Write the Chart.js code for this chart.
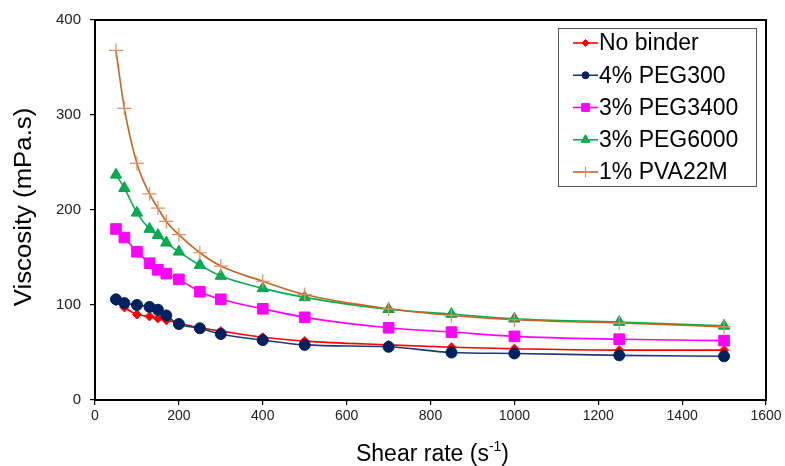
<!DOCTYPE html>
<html>
<head>
<meta charset="utf-8">
<script src="https://cdn.jsdelivr.net/npm/chart.js@4/dist/chart.umd.min.js"></script>
<style>
  html, body { margin: 0; padding: 0; background: #fff; }
  #wrap { width: 785px; height: 466px; position: relative; }
</style>
</head>
<body>
<div id="wrap"><canvas id="viscChart"></canvas></div>
<script>
/* ---- Data ---- */
const shearRate = [50, 70, 100, 130, 150, 170, 200, 250, 300, 400, 500, 700, 850, 1000, 1250, 1500];
const noBinder  = [104, 97.5, 90, 88, 86, 84, 81, 76, 72.5, 66, 62, 58, 55.5, 54, 52.5, 52.5];
const peg300    = [106, 102, 100, 98, 95, 89, 80, 75.5, 69.5, 63, 58, 56, 50, 49, 47, 46];
const peg3400   = [180, 171, 156, 144, 137, 133, 127, 114, 106, 96, 87, 76, 71.5, 67, 64, 62.5];
const peg6000   = [237, 223, 197, 180, 173.5, 165.5, 156, 142, 130.5, 117.5, 108, 95.5, 90.5, 85.5, 82, 78];
const pva22m    = [368, 307, 249, 217, 202, 188, 174, 155, 141, 125, 111, 96, 89, 84.5, 81, 77];

const seriesLabels = ['No binder', '4% PEG300', '3% PEG3400', '3% PEG6000', '1% PVA22M'];
const xTicks = [0, 200, 400, 600, 800, 1000, 1200, 1400, 1600];
const yTicks = [0, 100, 200, 300, 400];

const FONT = '"Liberation Sans", Arial, Helvetica, sans-serif';

/* ---- Series styling ---- */
const styles = [
  { line: '#FF0000', fill: '#FF0000', edge: '#FF0000', point: 'rectRot', r: 4.5, lr: 3.5 },
  { line: '#1F3A73', fill: '#002060', edge: '#002060', point: 'circle', r: 5.5, lr: 3.5 },
  { line: '#FF00FF', fill: '#FF00FF', edge: '#FF00FF', point: 'rect', r: 7.5, lr: 5.5 },
  { line: '#00B050', fill: '#00B050', edge: '#00A048', point: 'triangle', r: 6.5, lr: 5 },
  { line: '#C8641E', fill: '#E8A070', edge: '#E09060', point: 'cross', r: 7, lr: 5.5 },
];

const values = [noBinder, peg300, peg3400, peg6000, pva22m];

const datasets = values.map((vals, i) => {
  const s = styles[i];
  return {
    label: seriesLabels[i],
    data: shearRate.map((x, k) => ({ x, y: vals[k] })),
    borderColor: s.line,
    borderWidth: 1.6,
    backgroundColor: s.fill,
    pointStyle: s.point,
    pointRadius: s.r,
    pointBackgroundColor: s.fill,
    pointBorderColor: s.edge,
    pointBorderWidth: s.point === 'cross' ? 1.2 : 1,
    cubicInterpolationMode: 'monotone',
    fill: false,
    order: values.length - i,
  };
});

/* ---- Helpers ---- */

function _tickAxis(min, max, step, font, padding) {
  return {
    type: 'linear',
    min, max,
    ticks: {
      stepSize: step,
      color: '#222',
      font,
      padding,
      callback: (v) => String(v),
    },
    grid: {
      display: true,
      drawOnChartArea: false,
      drawTicks: true,
      tickLength: 5,
      color: '#000',
      lineWidth: 1.2,
    },
    border: { display: false },
  };
}

/* Plot frame, drawn under the series */
const framePlugin = {
  id: 'frame',
  beforeDatasetsDraw(chart) {
    const { ctx, chartArea: a } = chart;
    ctx.save();
    ctx.strokeStyle = '#000';
    ctx.lineWidth = 2;
    ctx.strokeRect(a.left, a.top, a.right - a.left, a.bottom - a.top);
    ctx.restore();
  },
};

/* Axis titles (x title carries a superscript) */
const titlesPlugin = {
  id: 'titles',
  afterDraw(chart) {
    const { ctx, chartArea: a } = chart;
    ctx.save();
    ctx.fillStyle = '#000';
    ctx.textBaseline = 'middle';

    // y title
    ctx.save();
    ctx.translate(25, (a.top + a.bottom) / 2 - 3);
    ctx.rotate(-Math.PI / 2);
    ctx.scale(1.12, 1);
    ctx.font = '23px ' + FONT;
    ctx.textAlign = 'center';
    ctx.fillText('Viscosity (mPa.s)', 0, 0);
    ctx.restore();

    // x title: "Shear rate (s" + sup "-1" + ")"
    const main = 'Shear rate (s';
    const sup = '-1';
    const close = ')';
    ctx.font = '23px ' + FONT;
    const w1 = ctx.measureText(main).width;
    const w3 = ctx.measureText(close).width;
    ctx.font = '14px ' + FONT;
    const w2 = ctx.measureText(sup).width;
    const total = w1 + w2 + w3;
    let x = (a.left + a.right) / 2 - total / 2 + 2;
    const y = 455;
    ctx.textAlign = 'left';
    ctx.font = '23px ' + FONT;
    ctx.fillText(main, x, y);
    x += w1;
    ctx.font = '14px ' + FONT;
    ctx.fillText(sup, x, y - 8);
    x += w2;
    ctx.font = '23px ' + FONT;
    ctx.fillText(close, x, y);
    ctx.restore();
  },
};

/* Legend box with line + marker samples */
const legendPlugin = {
  id: 'boxLegend',
  afterDraw(chart) {
    const { ctx, chartArea: a } = chart;
    const right = a.right - 10;
    const left = right - 198;
    const top = a.top + 8;
    const bottom = top + 158;
    ctx.save();
    ctx.fillStyle = '#fff';
    ctx.fillRect(left, top, right - left, bottom - top);
    ctx.strokeStyle = '#555';
    ctx.lineWidth = 1;
    ctx.strokeRect(left + 0.5, top + 0.5, right - left, bottom - top);

    ctx.font = '23px ' + FONT;
    ctx.textBaseline = 'middle';
    ctx.textAlign = 'left';
    seriesLabels.forEach((label, i) => {
      const s = styles[i];
      const y = top + 15 + i * 32.25;
      const x0 = left + 15;
      const x1 = left + 40;
      ctx.strokeStyle = s.line;
      ctx.lineWidth = 1.6;
      ctx.beginPath();
      ctx.moveTo(x0, y);
      ctx.lineTo(x1, y);
      ctx.stroke();

      ctx.fillStyle = s.fill;
      ctx.strokeStyle = s.edge;
      ctx.lineWidth = s.point === 'cross' ? 1.2 : 1;
      Chart.helpers.drawPoint(ctx, {
        pointStyle: s.point,
        radius: s.lr,
        rotation: 0,
        borderWidth: ctx.lineWidth,
      }, (x0 + x1) / 2, y);

      ctx.fillStyle = '#000';
      ctx.fillText(label, x1 + 1, y + 1);
    });
    ctx.restore();
  },
};

/* ---- Chart ---- */
const ctx = document.getElementById('viscChart').getContext('2d');

new Chart(ctx, {
  type: 'line',
  data: { datasets },
  options: {
    responsive: true,
    maintainAspectRatio: false,
    animation: false,
    layout: { padding: { left: 0, right: 19, top: 20, bottom: 0 } },
    plugins: {
      legend: { display: false },
      tooltip: { enabled: false },
    },
    scales: {
      x: {
        ..._tickAxis(0, 1600, 200, { size: 14, family: '"Liberation Sans Narrow", ' + FONT }, 3),
        afterFit(scale) { scale.height = 66; },
        afterBuildTicks(scale) { scale.ticks = xTicks.map(v => ({ value: v })); },
      },
      y: {
        ..._tickAxis(0, 400, 100, { size: 15, family: FONT }, 9),
        afterFit(scale) { scale.width = 95; },
        afterBuildTicks(scale) { scale.ticks = yTicks.map(v => ({ value: v })); },
      },
    },
  },
  plugins: [framePlugin, titlesPlugin, legendPlugin],
});
</script>
</body>
</html>
